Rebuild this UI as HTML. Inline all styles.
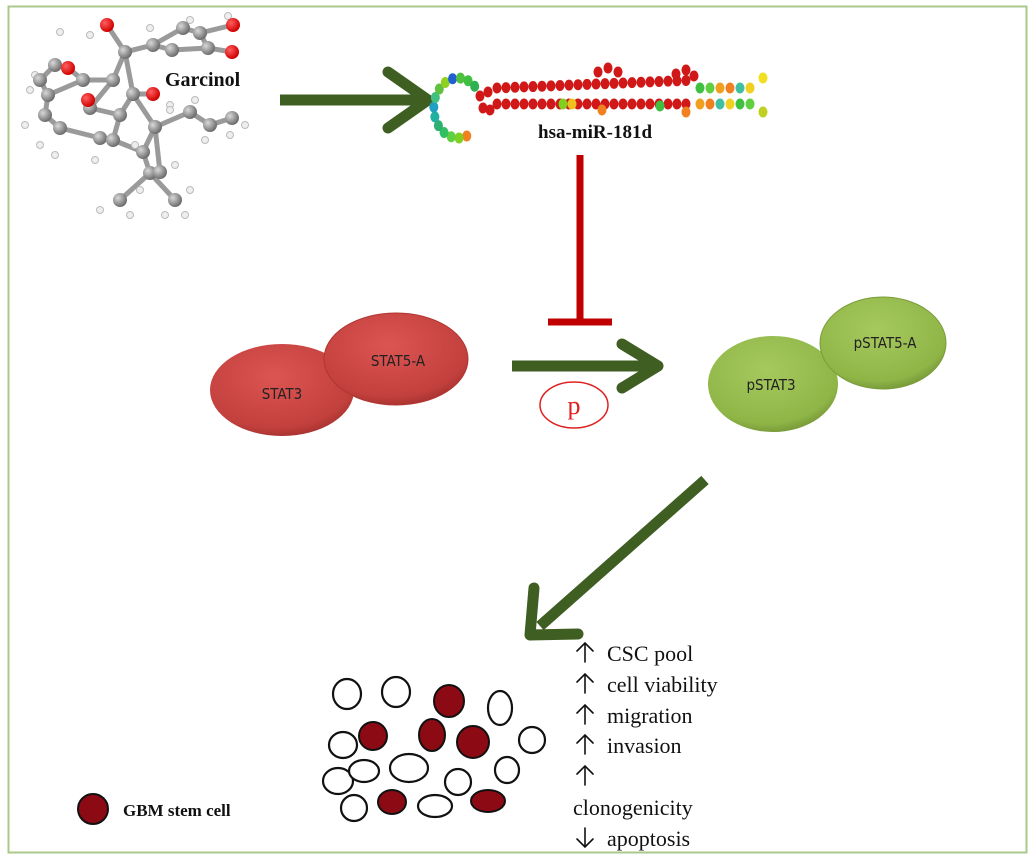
<!DOCTYPE html>
<html><head><meta charset="utf-8"><style>
html,body{margin:0;padding:0;background:#fff;width:1034px;height:860px;overflow:hidden}
svg{display:block}
</style></head><body>
<svg id="s" width="1034" height="860" viewBox="0 0 1034 860" xmlns="http://www.w3.org/2000/svg">
<defs>
<radialGradient id="gb" cx="35%" cy="35%" r="65%"><stop offset="0" stop-color="#d8d8d8"/><stop offset="1" stop-color="#6e6e6e"/></radialGradient>
<radialGradient id="rb" cx="35%" cy="35%" r="65%"><stop offset="0" stop-color="#ff6060"/><stop offset="1" stop-color="#d00000"/></radialGradient>
<radialGradient id="red" cx="45%" cy="35%" r="70%"><stop offset="0" stop-color="#dc5553"/><stop offset="0.8" stop-color="#c2403d"/><stop offset="1" stop-color="#9e2e2c"/></radialGradient>
<radialGradient id="grn" cx="45%" cy="35%" r="70%"><stop offset="0" stop-color="#a6c95e"/><stop offset="0.8" stop-color="#8fb547"/><stop offset="1" stop-color="#6f8f33"/></radialGradient>
</defs>
<rect x="8.5" y="6.5" width="1018" height="846" fill="#fff" stroke="#a9c98a" stroke-width="2"/>
<g id="mol" stroke="#9a9a9a" stroke-width="5" stroke-linecap="round"></g>
<text x="165" y="86" font-family="Liberation Serif, serif" font-weight="bold" font-size="20" fill="#111">Garcinol</text>
<line x1="280" y1="100" x2="425" y2="100" stroke="#3f5e22" stroke-width="11"/>
<polyline points="388,72 428,100 388,128" fill="none" stroke="#3f5e22" stroke-width="11" stroke-linecap="round" stroke-linejoin="round"/>
<g id="rna"></g>
<text x="538" y="138" font-family="Liberation Serif, serif" font-weight="bold" font-size="19" fill="#111">hsa-miR-181d</text>
<line x1="580" y1="155" x2="580" y2="322" stroke="#c00000" stroke-width="7"/>
<line x1="548" y1="322" x2="612" y2="322" stroke="#c00000" stroke-width="7"/>
<ellipse cx="282" cy="390" rx="72" ry="46" fill="url(#red)"/>
<ellipse cx="396" cy="359" rx="72" ry="46" fill="url(#red)" stroke="#b03532" stroke-width="1"/>
<text x="282" y="399" text-anchor="middle" font-family="DejaVu Sans Condensed, Liberation Sans, sans-serif" font-size="15" fill="#222">STAT3</text>
<text x="398" y="366" text-anchor="middle" font-family="DejaVu Sans Condensed, Liberation Sans, sans-serif" font-size="15" fill="#222">STAT5-A</text>
<line x1="512" y1="366" x2="650" y2="366" stroke="#3f5e22" stroke-width="11"/>
<polyline points="622,344 658,366 622,388" fill="none" stroke="#3f5e22" stroke-width="11" stroke-linecap="round" stroke-linejoin="round"/>
<ellipse cx="574" cy="405" rx="34" ry="23" fill="#fff" stroke="#e02020" stroke-width="1.5"/>
<text x="574" y="414" text-anchor="middle" font-family="Liberation Serif, serif" font-size="26" fill="#e02020">p</text>
<ellipse cx="773" cy="384" rx="65" ry="48" fill="url(#grn)"/>
<ellipse cx="883" cy="343" rx="63" ry="46" fill="url(#grn)" stroke="#7a9c3a" stroke-width="1"/>
<text x="771" y="390" text-anchor="middle" font-family="DejaVu Sans Condensed, Liberation Sans, sans-serif" font-size="15" fill="#222">pSTAT3</text>
<text x="885" y="348" text-anchor="middle" font-family="DejaVu Sans Condensed, Liberation Sans, sans-serif" font-size="15" fill="#222">pSTAT5-A</text>
<line x1="705" y1="480" x2="540" y2="626" stroke="#3f5e22" stroke-width="11"/>
<polyline points="534,588 530,635 578,634" fill="none" stroke="#3f5e22" stroke-width="11" stroke-linecap="round" stroke-linejoin="round"/>
<g stroke="#111" stroke-width="2.2" fill="#fff">
<ellipse cx="347" cy="694" rx="14" ry="15"/>
<ellipse cx="396" cy="692" rx="14" ry="15"/>
<ellipse cx="500" cy="708" rx="12" ry="17"/>
<ellipse cx="343" cy="745" rx="14" ry="13"/>
<ellipse cx="532" cy="740" rx="13" ry="13"/>
<ellipse cx="338" cy="781" rx="15" ry="13"/>
<ellipse cx="364" cy="771" rx="15" ry="11"/>
<ellipse cx="409" cy="768" rx="19" ry="14"/>
<ellipse cx="458" cy="782" rx="13" ry="13"/>
<ellipse cx="507" cy="770" rx="12" ry="13"/>
<ellipse cx="354" cy="808" rx="13" ry="13"/>
<ellipse cx="435" cy="806" rx="17" ry="11"/>
</g>
<g stroke="#111" stroke-width="2" fill="#8b0a14">
<ellipse cx="449" cy="701" rx="15" ry="16"/>
<ellipse cx="373" cy="736" rx="14" ry="14"/>
<ellipse cx="432" cy="735" rx="13" ry="16"/>
<ellipse cx="473" cy="742" rx="16" ry="16"/>
<ellipse cx="392" cy="802" rx="14" ry="12"/>
<ellipse cx="488" cy="801" rx="17" ry="11"/>
<ellipse cx="93" cy="809" rx="15" ry="15"/>
</g>
<text x="123" y="816" font-family="Liberation Serif, serif" font-weight="bold" font-size="17" fill="#111">GBM stem cell</text>
<g stroke="#111" stroke-width="1.6" fill="none" stroke-linecap="round">
<path d="M585,662 V643 M577,651 L585,643 L593,651"/>
<path d="M585,693 V674 M577,682 L585,674 L593,682"/>
<path d="M585,724 V705 M577,713 L585,705 L593,713"/>
<path d="M585,754 V735 M577,743 L585,735 L593,743"/>
<path d="M585,785 V766 M577,774 L585,766 L593,774"/>
<path d="M585,828 V847 M577,839 L585,847 L593,839"/>
</g>
<g font-family="Liberation Serif, serif" font-size="22" fill="#111">
<text x="607" y="661">CSC pool</text>
<text x="607" y="692">cell viability</text>
<text x="607" y="723">migration</text>
<text x="607" y="753">invasion</text>
<text x="573" y="815">clonogenicity</text>
<text x="607" y="846">apoptosis</text>
</g>
</svg>
<script>
var NS="http://www.w3.org/2000/svg";
function el(p,t,a){var e=document.createElementNS(NS,t);for(var k in a)e.setAttribute(k,a[k]);p.appendChild(e);return e;}
var mol=document.getElementById('mol');
var C=[[125,52],[153,45],[183,28],[172,50],[200,33],[208,48],[113,80],[83,80],[133,94],[90,108],[120,115],[155,127],[190,112],[210,125],[232,118],[45,115],[60,128],[100,138],[113,140],[143,152],[150,173],[160,172],[120,200],[175,200],[55,65],[40,80],[48,95]];
var O=[[107,25],[233,25],[232,52],[68,68],[153,94],[88,100]];
var B=[[0,1],[1,2],[2,4],[4,5],[5,3],[3,1],[0,6],[6,7],[7,26],[26,25],[25,24],[0,8],[8,11],[11,12],[12,13],[13,14],[6,9],[9,10],[10,8],[10,18],[18,17],[17,16],[16,15],[15,26],[18,19],[19,11],[19,20],[20,22],[20,23],[11,21]];
B.forEach(function(b){el(mol,'line',{x1:C[b[0]][0],y1:C[b[0]][1],x2:C[b[1]][0],y2:C[b[1]][1]});});
el(mol,'line',{x1:107,y1:25,x2:125,y2:52});el(mol,'line',{x1:233,y1:25,x2:200,y2:33});el(mol,'line',{x1:232,y1:52,x2:208,y2:48});
el(mol,'line',{x1:68,y1:68,x2:83,y2:80});el(mol,'line',{x1:153,y1:94,x2:133,y2:94});el(mol,'line',{x1:88,y1:100,x2:90,y2:108});
var H=[[60,32],[90,35],[150,28],[190,20],[228,16],[35,75],[30,90],[25,125],[40,145],[55,155],[95,160],[135,145],[170,105],[195,100],[230,135],[245,125],[205,140],[100,210],[130,215],[165,215],[185,215],[190,190],[140,190],[170,110],[175,165]];
H.forEach(function(h){el(mol,'circle',{cx:h[0],cy:h[1],r:3.5,fill:'#eee',stroke:'#bbb','stroke-width':1});});
C.forEach(function(c){el(mol,'circle',{cx:c[0],cy:c[1],r:7,fill:'url(#gb)',stroke:'none'});});
O.forEach(function(c){el(mol,'circle',{cx:c[0],cy:c[1],r:7,fill:'url(#rb)',stroke:'none'});});
var rna=document.getElementById('rna');
function dot(x,y,c){el(rna,'ellipse',{cx:x,cy:y,rx:4.5,ry:5.5,fill:c});}
var loopC=['#f08020','#7fd020','#60d040','#30c060','#30b070','#20b0a0','#20a0c0','#40c080','#60c040','#90d020','#2060d0','#50c040','#40c040','#30b050'];
for(var i=0;i<14;i++){var a=-1.2-i*(4.6/14);dot(458+22*Math.cos(a)*1.1,108+30*Math.sin(a)*-1,loopC[i]);}
for(var x=497;x<=690;x+=9){var cy1=88-(x-497)*0.04,cy2=104;dot(x,cy1,'#d01818');dot(x,cy2,'#d01818');}
dot(480,96,'#d01818');dot(488,92,'#d01818');dot(483,108,'#d01818');dot(490,110,'#d01818');
[[598,72],[608,68],[618,72],[676,74],[686,70],[694,76]].forEach(function(p){dot(p[0],p[1],'#d01818');});
[[563,104,'#80d020'],[572,104,'#f0c020'],[602,110,'#f08020'],[660,106,'#40c040'],[686,112,'#f08020']].forEach(function(p){dot(p[0],p[1],p[2]);});
var endC=['#40c040','#60d040','#f0a020','#f08020','#40c0a0','#f0d020'];
for(var j=0;j<6;j++){dot(700+j*10,88,endC[j]);dot(700+j*10,104,endC[(j+2)%6]);}
dot(763,78,'#f0e020');dot(763,112,'#c0d020');
</script>
</body></html>
